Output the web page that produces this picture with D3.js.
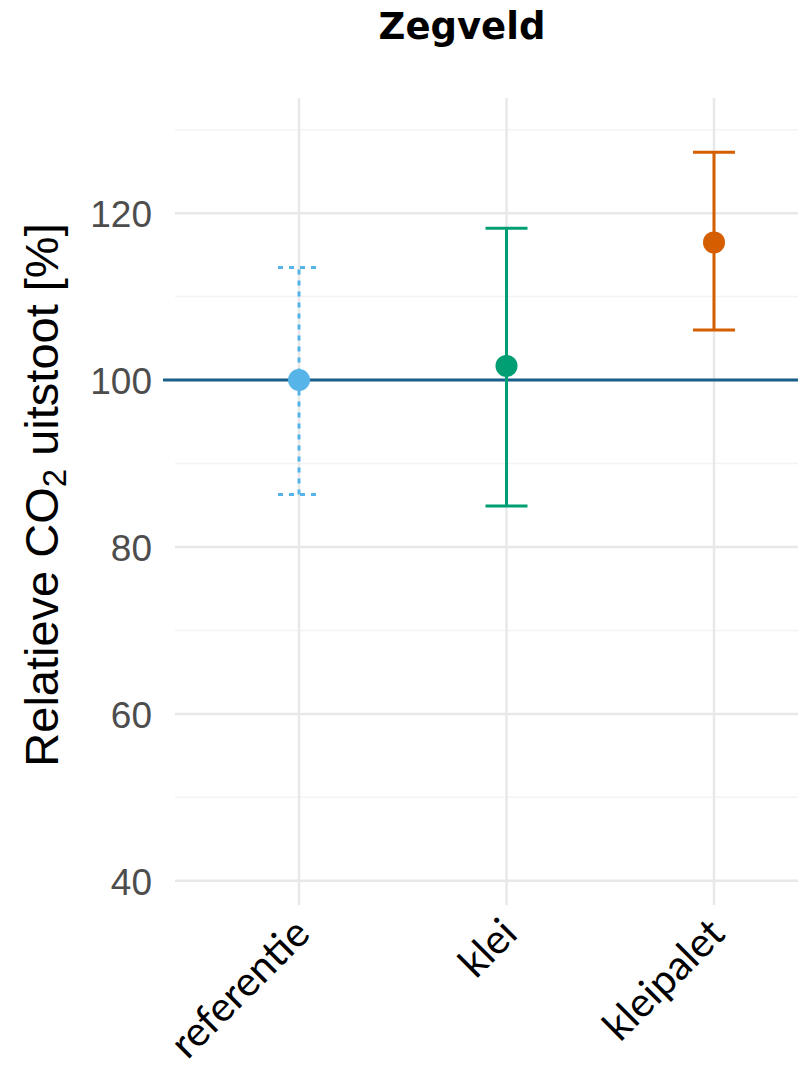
<!DOCTYPE html>
<html>
<head>
<meta charset="utf-8">
<script src="https://cdn.jsdelivr.net/npm/d3@7"></script>
<style>
  html, body { margin: 0; padding: 0; background: #fff; }
  svg { display: block; }
</style>
</head>
<body>
<svg id="chart" width="798" height="1067"></svg>
<script>
// ---- data ----
const categories = ["referentie", "klei", "kleipalet"];
const means = [100, 101.7, 116.5];
const lower = [86.3, 84.9, 106.0];
const upper = [113.5, 118.2, 127.3];
const colors = ["#56B4E9", "#009E73", "#D55E00"];
const dashed = [true, false, false];
const majorTicks = [40, 60, 80, 100, 120];
const minorTicks = [50, 70, 90, 110, 130];
const referenceValue = 100;
const title = "Zegveld";

// ---- layout ----
const svg = d3.select("#chart");
const panel = { left: 165, right: 830, top: 98, bottom: 905 };

const y = d3.scaleLinear().domain([37.1, 133.8]).range([panel.bottom, panel.top]);
const x = d3.scalePoint().domain(categories).range([299, 714]);

// gridlines
const grid = svg.append("g");
grid.selectAll("line.minor").data(minorTicks).join("line")
  .attr("x1", 175).attr("x2", panel.right)
  .attr("y1", d => y(d)).attr("y2", d => y(d))
  .attr("stroke", "#f3f3f3").attr("stroke-width", 1.5);
grid.selectAll("line.major").data(majorTicks).join("line")
  .attr("x1", 175).attr("x2", panel.right)
  .attr("y1", d => y(d)).attr("y2", d => y(d))
  .attr("stroke", "#e8e8e8").attr("stroke-width", 2.5);
grid.selectAll("line.vert").data(categories).join("line")
  .attr("x1", d => x(d)).attr("x2", d => x(d))
  .attr("y1", panel.top).attr("y2", panel.bottom)
  .attr("stroke", "#e8e8e8").attr("stroke-width", 2.5);

// y axis tick labels
const yAxis = d3.axisLeft(y).tickValues(majorTicks).tickSize(0).tickPadding(0);
const yg = svg.append("g").attr("transform", "translate(152,0)").call(yAxis);
yg.select(".domain").remove();
yg.selectAll("text")
  .attr("font-family", "'Liberation Sans', Arial, sans-serif")
  .attr("font-size", 37).attr("fill", "#4d4d4d").attr("dy", "0.36em");

// x axis labels
const xAxis = d3.axisBottom(x).tickSize(0).tickPadding(0);
const xg = svg.append("g").call(xAxis);
xg.select(".domain").remove();
xg.selectAll(".tick").attr("transform", d => `translate(${x(d) + 13},936)`);
xg.selectAll("text")
  .attr("font-family", "Lato, 'Open Sans', sans-serif")
  .attr("font-size", 41).attr("fill", "#000")
  .attr("text-anchor", "end").attr("dy", 0).attr("y", 0)
  .attr("transform", "rotate(-45)");

// reference line
svg.append("line")
  .attr("x1", 163).attr("x2", panel.right)
  .attr("y1", y(referenceValue)).attr("y2", y(referenceValue))
  .attr("stroke", "#1a5f8a").attr("stroke-width", 3);

// error bars
const capHalf = 21;
const bars = svg.append("g").selectAll("g").data(categories).join("g");
bars.append("line")
  .attr("x1", (d) => x(d)).attr("x2", (d) => x(d))
  .attr("y1", (d, i) => y(lower[i])).attr("y2", (d, i) => y(upper[i]))
  .attr("stroke", (d, i) => colors[i]).attr("stroke-width", 3)
  .attr("stroke-dasharray", (d, i) => dashed[i] ? "5,6" : null);
bars.append("line")
  .attr("x1", (d) => x(d) - capHalf).attr("x2", (d) => x(d) + capHalf)
  .attr("y1", (d, i) => y(upper[i])).attr("y2", (d, i) => y(upper[i]))
  .attr("stroke", (d, i) => colors[i]).attr("stroke-width", 3)
  .attr("stroke-dasharray", (d, i) => dashed[i] ? "5,6" : null);
bars.append("line")
  .attr("x1", (d) => x(d) - capHalf).attr("x2", (d) => x(d) + capHalf)
  .attr("y1", (d, i) => y(lower[i])).attr("y2", (d, i) => y(lower[i]))
  .attr("stroke", (d, i) => colors[i]).attr("stroke-width", 3)
  .attr("stroke-dasharray", (d, i) => dashed[i] ? "5,6" : null);
bars.append("circle")
  .attr("cx", d => x(d)).attr("cy", (d, i) => y(means[i]))
  .attr("r", 11).attr("fill", (d, i) => colors[i]);

// y axis title
const yt = svg.append("text")
  .attr("transform", "translate(58,495) rotate(-90)")
  .attr("text-anchor", "middle")
  .attr("font-family", "'Liberation Sans', Arial, sans-serif")
  .attr("font-size", 47).attr("fill", "#000");
yt.append("tspan").text("Relatieve CO");
yt.append("tspan").attr("font-size", 33).attr("dy", 8).text("2");
yt.append("tspan").attr("dy", -8).text(" uitstoot [%]");

// title
svg.append("text")
  .attr("x", 462).attr("y", 39)
  .attr("text-anchor", "middle")
  .attr("font-family", "'DejaVu Sans', sans-serif")
  .attr("font-weight", "bold").attr("font-size", 37).attr("fill", "#000")
  .text(title);
</script>
</body>
</html>
